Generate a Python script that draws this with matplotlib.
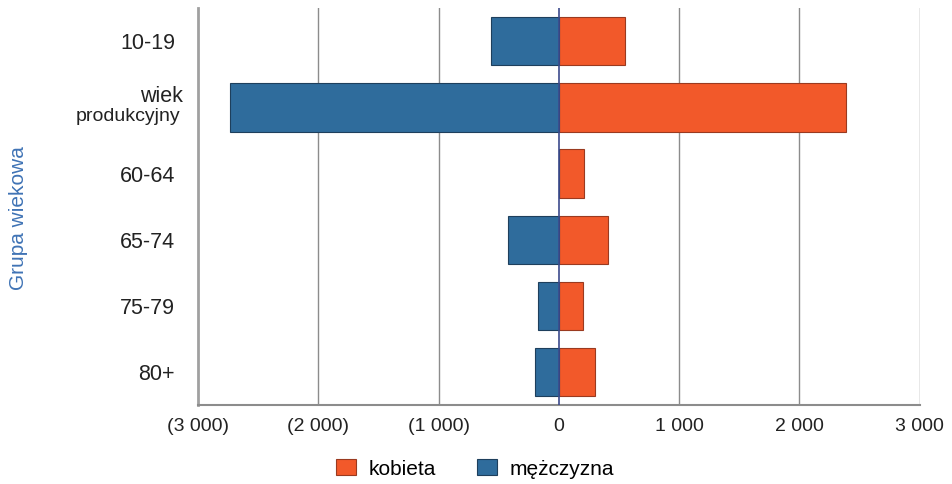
import matplotlib.pyplot as plt
import matplotlib.transforms as mtransforms
from matplotlib.ticker import FuncFormatter
import numpy as np

plt.rcParams['font.family'] = ['Liberation Sans', 'DejaVu Sans']

# age groups and counts
groups = ['10-19', 'wiek produkcyjny', '60-64', '65-74', '75-79', '80+']
kobieta = [550, 2390, 210, 410, 200, 300]
mezczyzna = [560, 2730, 0, 420, 170, 200]

orange = '#F2592A'
blue = '#2F6C9C'

fig = plt.figure(figsize=(9.52, 4.84), dpi=100)
ax = fig.add_axes([0.208, 0.163, 0.758, 0.82])

y = np.arange(len(groups))
ax.barh(y, kobieta, height=0.73, color=orange, edgecolor='#9A3A20', linewidth=0.8, label='kobieta')
ax.barh(y, -np.array(mezczyzna), height=0.73, color=blue, edgecolor='#1E3F5C', linewidth=0.8, label='mężczyzna')

ax.set_xlim(-3000, 3000)
ax.set_ylim(len(groups) - 0.5, -0.5)

# grid lines
for xv in [-2000, -1000, 1000, 2000, 3000]:
    ax.axvline(xv, color='#8C8C8C', lw=1, zorder=0)
ax.axvline(0, color='#3C4A8C', lw=1.2, zorder=3)

for s in ['top', 'right']:
    ax.spines[s].set_visible(False)
ax.spines['left'].set_color('#A0A0A0')
ax.spines['left'].set_linewidth(2)
ax.spines['bottom'].set_color('#8C8C8C')
ax.spines['bottom'].set_linewidth(1.5)

def fmt(v, pos):
    v = int(round(v))
    s = '{:,}'.format(abs(v)).replace(',', ' ')
    return '(' + s + ')' if v < 0 else s

ax.set_xticks([-3000, -2000, -1000, 0, 1000, 2000, 3000])
ax.xaxis.set_major_formatter(FuncFormatter(fmt))
ax.tick_params(axis='x', length=0, pad=9, labelsize=14, colors='#222222')

ax.set_yticks(y)
labels = list(groups)
labels[1] = ''
ax.set_yticklabels(labels)
ax.tick_params(axis='y', length=0, pad=16.5, labelsize=15.5, colors='#222222')

# two-part label for working age
trans = mtransforms.blended_transform_factory(ax.transAxes, ax.transData)
ax.text(-15 / 722, 0.84, 'wiek', transform=trans, ha='right', va='center', fontsize=15.5, color='#222222')
ax.text(-18 / 722, 1.14, 'produkcyjny', transform=trans, ha='right', va='center', fontsize=14, color='#222222')

fig.text(0.019, 0.55, 'Grupa wiekowa', rotation=90, ha='center', va='center', fontsize=15, color='#3F73B5')

fig.legend(loc='center', bbox_to_anchor=(0.499, 0.031), ncol=2, frameon=False,
           fontsize=15, handlelength=0.95, handleheight=0.8, columnspacing=2.0, handletextpad=0.6)

fig.savefig('out.png', dpi=100)
